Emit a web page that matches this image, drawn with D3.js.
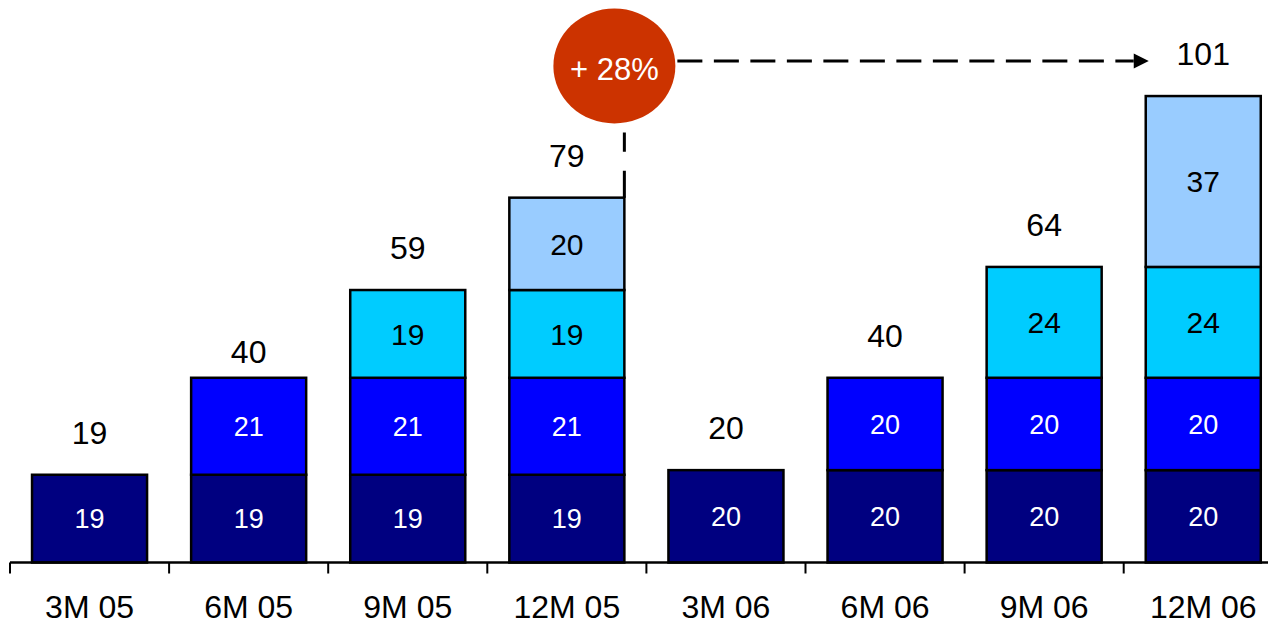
<!DOCTYPE html>
<html>
<head>
<meta charset="utf-8">
<script src="https://cdn.jsdelivr.net/npm/d3@7"></script>
<style>
  html, body { margin: 0; padding: 0; background: #fff; }
  svg { display: block; font-family: "Liberation Sans", Arial, sans-serif; }
</style>
</head>
<body>
<svg id="chart" width="1268" height="626"></svg>
<script>
// ---- data ----
const categories = ["3M 05", "6M 05", "9M 05", "12M 05", "3M 06", "6M 06", "9M 06", "12M 06"];
const seriesNavy  = [19, 19, 19, 19, 20, 20, 20, 20];
const seriesBlue  = [0, 21, 21, 21, 0, 20, 20, 20];
const seriesCyan  = [0, 0, 19, 19, 0, 0, 24, 24];
const seriesLight = [0, 0, 0, 20, 0, 0, 0, 37];
const totals      = [19, 40, 59, 79, 20, 40, 64, 101];
const growthLabel = "+ 28%";
const growthFrom = "12M 05";
const growthTo = "12M 06";

// ---- styles ----
const seriesKeys = ["navy", "blue", "cyan", "light"];
const colors = { navy: "#000080", blue: "#0000FF", cyan: "#00CCFF", light: "#99CCFF" };
const labelColors = { navy: "#ffffff", blue: "#ffffff", cyan: "#000000", light: "#000000" };
const labelSizes = { navy: 27, blue: 27, cyan: 30, light: 30 };

const rows = categories.map((c, i) => ({
  cat: c, navy: seriesNavy[i], blue: seriesBlue[i], cyan: seriesCyan[i], light: seriesLight[i], total: totals[i]
}));

const svg = d3.select("#chart");
const axisY = 562.5;
const x = d3.scaleBand().domain(categories).range([10, 10 + 159.1 * categories.length]).paddingInner(0.277).paddingOuter(0.1385);
const y = d3.scaleLinear().domain([0, 121.8]).range([axisY, 0]);

const stack = d3.stack().keys(seriesKeys);
const stacked = stack(rows);

const g = svg.append("g");

stacked.forEach(layer => {
  const key = layer.key;
  g.selectAll(null)
    .data(layer.filter(d => d[1] - d[0] > 0))
    .join("rect")
    .attr("x", d => x(d.data.cat))
    .attr("y", d => y(d[1]))
    .attr("width", x.bandwidth())
    .attr("height", d => y(d[0]) - y(d[1]))
    .attr("fill", colors[key])
    .attr("stroke", "#000")
    .attr("stroke-width", 2.5);

  g.selectAll(null)
    .data(layer.filter(d => d[1] - d[0] > 0))
    .join("text")
    .attr("x", d => x(d.data.cat) + x.bandwidth() / 2)
    .attr("y", d => (y(d[0]) + y(d[1])) / 2)
    .attr("dy", "0.36em")
    .attr("text-anchor", "middle")
    .attr("fill", labelColors[key])
    .attr("font-size", labelSizes[key])
    .text(d => d[1] - d[0]);
});

// totals
const totalNudge = { "6M 05": 16 };
g.selectAll(".tot")
  .data(rows)
  .join("text")
  .attr("class", "tot")
  .attr("x", d => x(d.cat) + x.bandwidth() / 2)
  .attr("y", d => y(d.total) - 31 + (totalNudge[d.cat] || 0))
  .attr("text-anchor", "middle")
  .attr("font-size", 32)
  .attr("fill", "#000")
  .text(d => d.total);

// x axis
const step = x.step();
const x0 = x.range()[0];
g.append("line")
  .attr("x1", x0).attr("x2", 1268)
  .attr("y1", axisY).attr("y2", axisY)
  .attr("stroke", "#000").attr("stroke-width", 2.5);
g.selectAll(".tick")
  .data(d3.range(categories.length + 1))
  .join("line")
  .attr("x1", i => x0 + i * step).attr("x2", i => x0 + i * step)
  .attr("y1", axisY).attr("y2", axisY + 11)
  .attr("stroke", "#000").attr("stroke-width", 2);
g.selectAll(".xl")
  .data(categories)
  .join("text")
  .attr("x", c => x(c) + x.bandwidth() / 2)
  .attr("y", 618)
  .attr("text-anchor", "middle")
  .attr("font-size", 32)
  .attr("fill", "#000")
  .text(c => c);

// growth annotation
const fromRow = rows.find(r => r.cat === growthFrom);
const vx = x(growthFrom) + x.bandwidth();
const cx = vx - 10, cy = 66, rx = 61, ry = 57.5;
const lineY = 61;
const arrowTip = x(growthTo) + 3;

g.append("line")
  .attr("x1", vx).attr("x2", vx)
  .attr("y1", y(fromRow.total)).attr("y2", cy + ry + 9)
  .attr("stroke", "#000").attr("stroke-width", 3)
  .attr("stroke-dasharray", "27 19");

g.append("line")
  .attr("x1", cx + rx + 2).attr("x2", arrowTip - 15)
  .attr("y1", lineY).attr("y2", lineY)
  .attr("stroke", "#000").attr("stroke-width", 3)
  .attr("stroke-dasharray", "25 11.5");
g.append("path")
  .attr("d", `M${arrowTip - 15},${lineY - 7.5} L${arrowTip},${lineY} L${arrowTip - 15},${lineY + 7.5} Z`)
  .attr("fill", "#000");

g.append("ellipse")
  .attr("cx", cx).attr("cy", cy).attr("rx", rx).attr("ry", ry)
  .attr("fill", "#CC3300");
g.append("text")
  .attr("x", cx).attr("y", cy + 3)
  .attr("dy", "0.36em")
  .attr("text-anchor", "middle")
  .attr("font-size", 31)
  .attr("fill", "#fff")
  .text(growthLabel);
</script>
</body>
</html>
